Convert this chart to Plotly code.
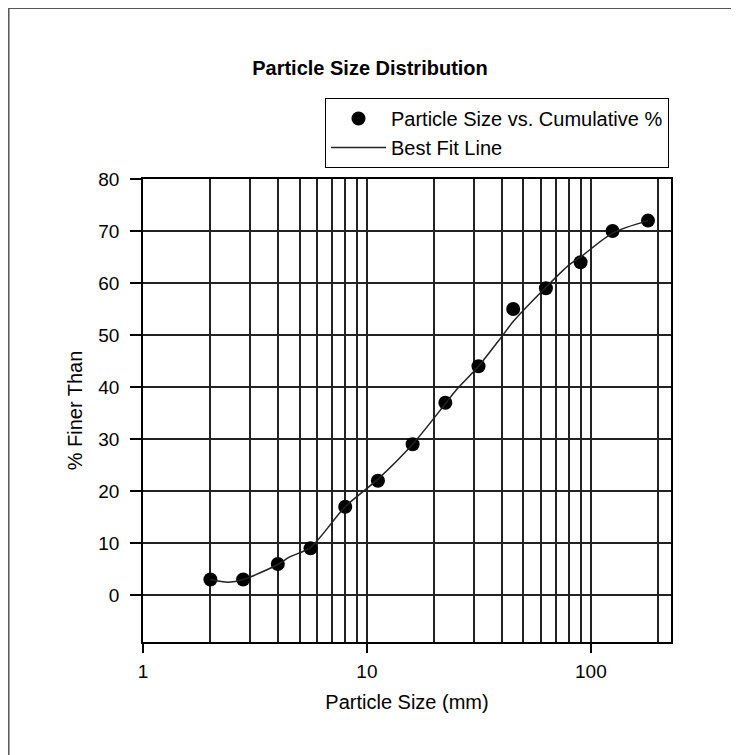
import plotly.graph_objects as go

# ---- data ----
particle_size_mm = [2, 2.8, 4, 5.6, 8, 11.2, 16, 22.4, 31.5, 45, 63, 90, 125, 180]
cumulative_pct = [3, 3, 6, 9, 17, 22, 29, 37, 44, 55, 59, 64, 70, 72]

fit_size_mm = [2, 2.4, 2.8, 4, 4.5, 5.6, 8, 11.2, 16, 22.4, 25, 31.5, 40, 45, 63, 80, 90, 125, 180]
fit_pct = [3, 2.5, 3, 5.9, 7.3, 9.2, 17, 22.3, 29, 36.8, 39.4, 44, 49.7, 52.6, 59.2, 63.5, 65, 69.6, 72]

x_major_ticks = [1, 10, 100]
x_major_labels = ["1", "10", "100"]
x_minor_grid = [2, 3, 4, 5, 6, 7, 8, 9, 20, 30, 40, 50, 60, 70, 80, 90, 200]
y_ticks = [0, 10, 20, 30, 40, 50, 60, 70, 80]

FONT = "Liberation Sans, Arial, sans-serif"
GRID = "#222222"

fig = go.Figure()
fig.add_trace(go.Scatter(
    x=particle_size_mm, y=cumulative_pct, mode="markers",
    name="Particle Size vs. Cumulative %",
    marker=dict(color="black", size=14, symbol="circle"),
))
fig.add_trace(go.Scatter(
    x=fit_size_mm, y=fit_pct, mode="lines", name="Best Fit Line",
    line=dict(color="#222222", width=1.5, shape="spline", smoothing=0.8),
))

# page has an 8px body margin, so the figure is drawn 8px right/down
W, H = 731, 747
L, R, T, B = 135, 68, 171, 113
pw, ph = W - L - R, H - T - B


def px_x(p):
    return (p - L) / pw


def px_y(p):
    return (H - B - p) / ph


fig.update_layout(
    width=W, height=H,
    margin=dict(l=L, r=R, t=T, b=B, pad=0),
    paper_bgcolor="white", plot_bgcolor="white",
    font=dict(family=FONT, color="black", size=19),
    title=dict(text="<b>Particle Size Distribution</b>", x=362 / W, xref="container",
               xanchor="center", y=1 - 60 / H, yanchor="middle",
               font=dict(size=20, family=FONT, color="black")),
    showlegend=True,
    legend=dict(x=px_x(317), y=px_y(90), xanchor="left", yanchor="top",
                bordercolor="black", borderwidth=1, bgcolor="white",
                font=dict(size=20, family=FONT), itemwidth=55,
                tracegroupgap=0),
)

fig.update_xaxes(
    type="log", range=[0, 2.358],
    tickmode="array", tickvals=x_major_ticks, ticktext=x_major_labels,
    ticks="outside", ticklen=9, tickwidth=1.5, tickcolor="black",
    ticklabelstandoff=2,
    showgrid=True, gridcolor=GRID, gridwidth=1.5,
    minor=dict(tickmode="array", tickvals=x_minor_grid, showgrid=True,
               gridcolor=GRID, gridwidth=1.5, ticks=""),
    showline=True, linecolor="black", linewidth=1.6, mirror=True,
    zeroline=False,
    title=dict(text="Particle Size (mm)", standoff=14, font=dict(size=20, family=FONT)),
    tickfont=dict(size=19, family=FONT),
)
fig.update_yaxes(
    range=[-9, 80], tickmode="array", tickvals=y_ticks,
    ticks="outside", ticklen=11, tickwidth=1.5, tickcolor="black",
    ticklabelstandoff=7,
    showgrid=True, gridcolor=GRID, gridwidth=1.5,
    showline=True, linecolor="black", linewidth=1.6, mirror=True,
    zeroline=False,
    title=dict(text="% Finer Than", standoff=10, font=dict(size=20, family=FONT)),
    tickfont=dict(size=19, family=FONT),
)

# outer page frame (only top and left edges visible in the scan)
fig.add_shape(type="rect", xref="paper", yref="paper",
              x0=px_x(0.8), x1=px_x(800), y0=px_y(800), y1=px_y(0.3),
              line=dict(color="#555555", width=1.5), layer="below")

fig.write_html("out.html")
